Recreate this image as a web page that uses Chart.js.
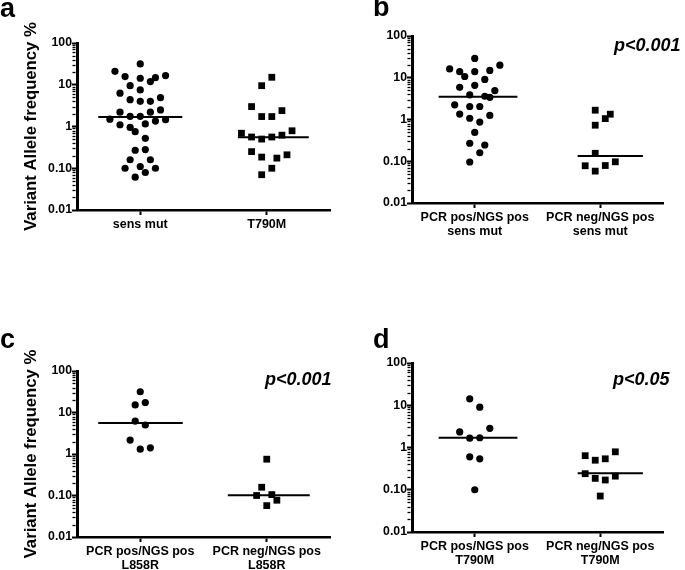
<!DOCTYPE html>
<html>
<head>
<meta charset="utf-8">
<script src="https://cdn.jsdelivr.net/npm/chart.js@4.4.1/dist/chart.umd.min.js"></script>
<style>
html,body{margin:0;padding:0;background:#fff;}
#wrap{position:relative;width:685px;height:570px;overflow:hidden;font-family:"Liberation Sans",Arial,Helvetica,sans-serif;color:#000;}
.panel{position:absolute;}
.panel canvas{display:block;}
.letter{position:absolute;font-weight:bold;font-size:27px;line-height:27px;white-space:nowrap;}
.pval{position:absolute;font-weight:bold;font-style:italic;font-size:18px;line-height:18px;white-space:nowrap;}
</style>
</head>
<body>
<div id="wrap">
  <div class="panel" style="left:0;top:0;"><canvas id="ca" width="340" height="285"></canvas></div>
  <div class="panel" style="left:340px;top:0;"><canvas id="cb" width="345" height="285"></canvas></div>
  <div class="panel" style="left:0;top:285px;"><canvas id="cc" width="340" height="285"></canvas></div>
  <div class="panel" style="left:340px;top:285px;"><canvas id="cd" width="345" height="285"></canvas></div>
  <div class="letter" style="left:0;top:-5px;">a</div>
  <div class="letter" style="left:373px;top:-6px;">b</div>
  <div class="letter" style="left:0;top:326px;">c</div>
  <div class="letter" style="left:373px;top:326px;">d</div>
  <div class="pval" style="left:614px;top:36px;">p&lt;0.001</div>
  <div class="pval" style="left:265px;top:370px;">p&lt;0.001</div>
  <div class="pval" style="left:613px;top:370px;">p&lt;0.05</div>
</div>
<script>
// ---------------- DATA ----------------
const yAxisTitle = 'Variant Allele frequency %';
const yTickValues = [0.01, 0.1, 1, 10, 100];
const yTickLabels = ['0.01', '0.10', '1', '10', '100'];

// Panel a
const aCategories = ['sens mut', 'T790M'];
const aSensMut = [31.5, 21, 15.7, 14.3, 14.8, 16.6, 11.9, 9.5, 7.5, 6.3, 4.4, 4.0, 4.0, 4.9, 2.2, 1.75, 1.75, 2.2, 2.5, 1.5, 1.1, 0.95, 0.75, 1.15, 1.35, 1.45, 0.52, 0.27, 0.28, 0.16, 0.16, 0.10, 0.11, 0.10, 0.079, 0.061];
const aT790M = [15.1, 9.5, 3.0, 2.4, 1.73, 1.73, 0.79, 0.69, 0.56, 0.50, 0.56, 0.62, 0.25, 0.185, 0.175, 0.21, 0.10, 0.07];
const aMedians = [1.7, 0.55];

// Panel b
const bCategories = [['PCR pos/NGS pos', 'sens mut'], ['PCR neg/NGS pos', 'sens mut']];
const bPcrPos = [29, 16.3, 14, 10.7, 14, 15, 20, 9.1, 5.9, 6.6, 3.9, 3.6, 3.4, 4.9, 2.25, 2.05, 2.05, 1.25, 1.35, 1.07, 0.87, 0.49, 0.27, 0.245, 0.16, 0.096];
const bPcrNeg = [1.67, 1.34, 1.05, 0.73, 0.155, 0.078, 0.079, 0.097, 0.058];
const bMedians = [3.5, 0.133];

// Panel c
const cCategories = [['PCR pos/NGS pos', 'L858R'], ['PCR neg/NGS pos', 'L858R']];
const cPcrPos = [31.6, 15.2, 17.4, 6.2, 5.0, 2.16, 1.31, 1.41];
const cPcrNeg = [0.75, 0.158, 0.1, 0.105, 0.077, 0.057];
const cMedians = [5.6, 0.102];

// Panel d
const dCategories = [['PCR pos/NGS pos', 'T790M'], ['PCR neg/NGS pos', 'T790M']];
const dPcrPos = [14.2, 9.0, 2.85, 2.34, 1.66, 1.7, 0.6, 0.54, 0.10];
const dPcrNeg = [0.64, 0.50, 0.54, 0.79, 0.24, 0.186, 0.17, 0.21, 0.071];
const dMedians = [1.7, 0.245];

// ---------------- LAYOUT (column-scatter slots, sizes) ----------------
const SLOT = 0.04; // horizontal spread step, in category units
const aSlots = [[0,-5,-3,0,3,5,2,-2,0,-4,-2,0,2,4,-4,-2,0,2,4,-6,-4,-2,-1,1,3,5,1,-1,1,-2,2,-3,0,3,1,-1],
                [1,-1,-3,3,-1,1,5,-5,-3,-1,1,3,-3,-1,2,4,1,-1]];
const bSlots = [[0,-5,-3,-2,0,3,5,2,-3,0,-1,2,3,4,-4,-1,1,3,-3,-1,1,0,-1,2,1,-1],
                [-1,2,1,-1,-1,-3,1,3,-1]];
const cSlots = [[0,-1,1,-1,1,-2,0,2],[0,-1,-2,1,2,0]];
const dSlots = [[-1,1,3,-3,-1,1,-1,1,0],[-3,-1,1,3,-3,-1,1,3,0]];
const aLine = [[-8.3,8.3],[-5.7,8.3]];
const bLine = [[-7.2,8.5],[-4.5,8.5]];
const cLine = [[-8.3,8.4],[-7.7,8.5]];
const dLine = [[-7.2,8.5],[-4.5,8.5]];

const FONT = "'Liberation Sans', Arial, Helvetica, sans-serif";
Chart.defaults.font.family = FONT;
Chart.defaults.color = '#000';

const minorTicks = {
  id: 'minorTicks',
  afterDraw(chart) {
    const s = chart.scales.y;
    const ctx = chart.ctx;
    const x0 = s.right - 1.5;
    ctx.save();
    ctx.strokeStyle = '#000';
    ctx.lineWidth = 1.3;
    for (let e = -2; e < 2; e++) {
      for (let m = 2; m <= 9; m++) {
        const y = Math.round(s.getPixelForValue(m * Math.pow(10, e))) + 0.5;
        ctx.beginPath();
        ctx.moveTo(x0 - 3, y);
        ctx.lineTo(x0, y);
        ctx.stroke();
      }
    }
    ctx.restore();
  }
};

function makePanel(id, p) {
  const pts = (vals, center, slots) => vals.map((v, i) => ({x: center + slots[i] * SLOT, y: v}));
  const med = (m, center, ext) => [{x: center + ext[0] * SLOT, y: m}, {x: center + ext[1] * SLOT, y: m}];
  new Chart(document.getElementById(id), {
    type: 'scatter',
    data: {
      datasets: [
        {data: pts(p.g0, 0, p.slots[0]), pointStyle: 'circle', pointRadius: 3.6, backgroundColor: '#000', borderWidth: 0},
        {data: pts(p.g1, 1, p.slots[1]), pointStyle: 'rect', pointRadius: 4.8, backgroundColor: '#000', borderWidth: 0},
        {data: med(p.medians[0], 0, p.line[0]), showLine: true, borderColor: '#000', borderWidth: 2, pointRadius: 0},
        {data: med(p.medians[1], 1, p.line[1]), showLine: true, borderColor: '#000', borderWidth: 2, pointRadius: 0}
      ]
    },
    options: {
      responsive: false,
      animation: false,
      events: [],
      layout: {padding: {left: 0, top: p.area.top, right: p.w - p.area.right, bottom: 0}},
      plugins: {legend: {display: false}, tooltip: {enabled: false}},
      scales: {
        x: {
          type: 'linear', position: 'bottom', min: -0.5, max: 1.5,
          afterBuildTicks: s => { s.ticks = [{value: 0}, {value: 1}]; },
          afterFit: s => { s.height = p.h - p.area.bottom; },
          ticks: {autoSkip: false, maxRotation: 0, color: '#000', padding: 3,
                  font: {family: FONT, size: 12.5, weight: 'bold', lineHeight: 1.08},
                  callback: (v, i) => p.categories[i]},
          grid: {display: true, drawOnChartArea: false, drawTicks: true, tickLength: 5, tickWidth: 2, tickColor: '#000'},
          border: {display: true, color: '#000', width: 2.5}
        },
        y: {
          type: 'logarithmic', min: 0.01, max: 100,
          afterBuildTicks: s => { s.ticks = yTickValues.map(v => ({value: v, major: true})); },
          afterFit: s => { s.width = p.area.left; },
          ticks: {autoSkip: false, color: '#000', padding: 0,
                  font: {family: FONT, size: 12.3, weight: 'bold'},
                  callback: (v, i) => yTickLabels[i]},
          grid: {display: true, drawOnChartArea: false, drawTicks: true, tickLength: 5, tickWidth: 2, tickColor: '#000'},
          border: {display: true, color: '#000', width: 3},
          title: {display: p.yTitle, text: yAxisTitle, color: '#000',
                  font: {family: FONT, size: 16.7, weight: 'bold'}, padding: {top: 21, bottom: 0}}
        }
      }
    },
    plugins: [minorTicks]
  });
}

makePanel('ca', {w: 340, h: 285, area: {left: 77, right: 330, top: 43, bottom: 210}, yTitle: true,
  categories: aCategories, g0: aSensMut, g1: aT790M, medians: aMedians, slots: aSlots, line: aLine});
makePanel('cb', {w: 345, h: 285, area: {left: 72, right: 323, top: 36, bottom: 203}, yTitle: false,
  categories: bCategories, g0: bPcrPos, g1: bPcrNeg, medians: bMedians, slots: bSlots, line: bLine});
makePanel('cc', {w: 340, h: 285, area: {left: 77, right: 330, top: 86, bottom: 252}, yTitle: true,
  categories: cCategories, g0: cPcrPos, g1: cPcrNeg, medians: cMedians, slots: cSlots, line: cLine});
makePanel('cd', {w: 345, h: 285, area: {left: 72, right: 323, top: 78, bottom: 247}, yTitle: false,
  categories: dCategories, g0: dPcrPos, g1: dPcrNeg, medians: dMedians, slots: dSlots, line: dLine});
</script>
</body>
</html>
